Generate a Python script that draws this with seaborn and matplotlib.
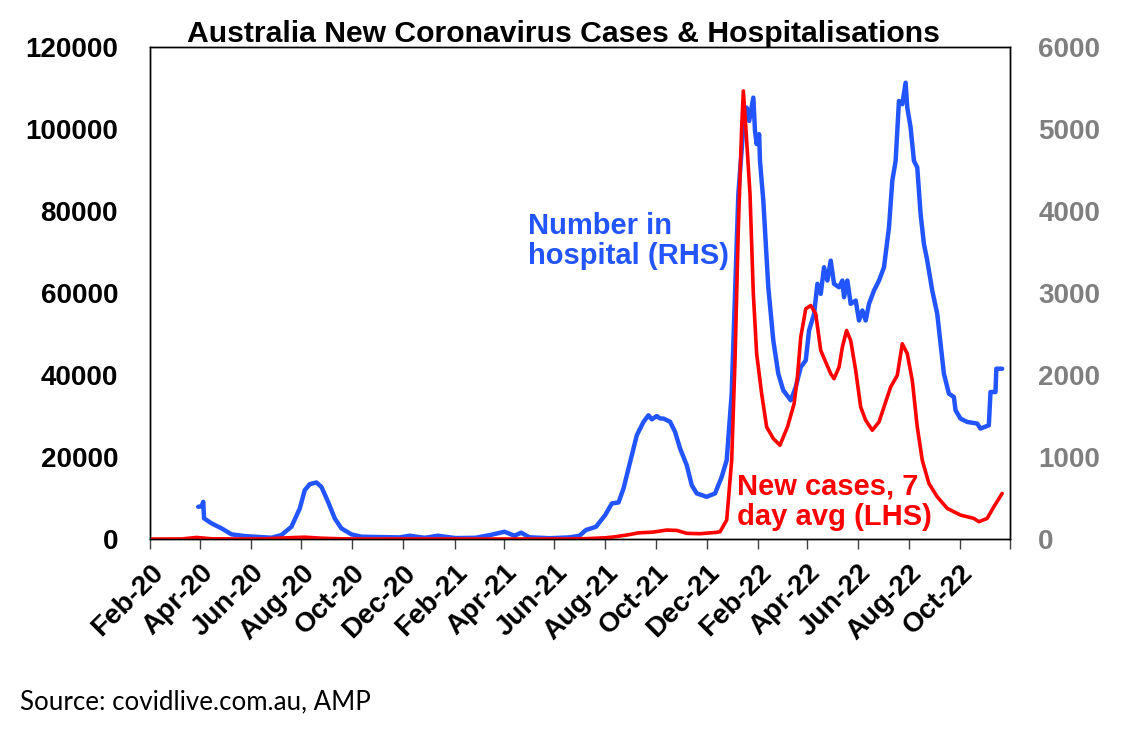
import pandas as pd
import seaborn as sns
import matplotlib.pyplot as plt

# number in hospital (RHS)
hosp_dates = [
    "2020-03-30", "2020-04-03", "2020-04-05", "2020-04-06", "2020-04-15", "2020-04-27",
    "2020-05-09", "2020-05-25", "2020-06-26", "2020-07-08", "2020-07-20", "2020-07-30",
    "2020-08-05", "2020-08-11", "2020-08-19", "2020-08-25", "2020-09-02", "2020-09-10",
    "2020-09-18", "2020-09-30", "2020-10-12", "2020-11-27", "2020-12-09", "2020-12-27",
    "2021-01-12", "2021-02-02", "2021-02-26", "2021-03-16", "2021-04-02", "2021-04-14",
    "2021-04-22", "2021-05-02", "2021-05-26", "2021-06-19", "2021-07-01", "2021-07-09",
    "2021-07-21", "2021-08-01", "2021-08-09", "2021-08-17", "2021-08-23", "2021-08-31",
    "2021-09-08", "2021-09-16", "2021-09-22", "2021-09-26", "2021-10-02", "2021-10-06",
    "2021-10-10", "2021-10-18", "2021-10-24", "2021-10-30", "2021-11-07", "2021-11-13",
    "2021-11-19", "2021-12-01", "2021-12-11", "2021-12-19", "2021-12-25", "2021-12-31",
    "2022-01-04", "2022-01-08", "2022-01-14", "2022-01-18", "2022-01-21", "2022-01-26",
    "2022-01-28", "2022-01-30", "2022-02-02", "2022-02-03", "2022-02-07", "2022-02-13",
    "2022-02-19", "2022-02-25", "2022-03-03", "2022-03-12", "2022-03-18", "2022-03-24",
    "2022-03-30", "2022-04-03", "2022-04-09", "2022-04-13", "2022-04-17", "2022-04-21",
    "2022-04-25", "2022-04-29", "2022-05-03", "2022-05-09", "2022-05-13", "2022-05-15",
    "2022-05-19", "2022-05-23", "2022-05-29", "2022-06-02", "2022-06-06", "2022-06-10",
    "2022-06-14", "2022-06-20", "2022-06-26", "2022-07-02", "2022-07-08", "2022-07-12",
    "2022-07-16", "2022-07-20", "2022-07-24", "2022-07-28", "2022-07-30", "2022-08-03",
    "2022-08-07", "2022-08-11", "2022-08-15", "2022-08-19", "2022-08-23", "2022-08-29",
    "2022-09-04", "2022-09-08", "2022-09-12", "2022-09-18", "2022-09-24", "2022-09-26",
    "2022-10-02", "2022-10-10", "2022-10-22", "2022-10-26", "2022-11-05", "2022-11-07",
    "2022-11-13", "2022-11-14", "2022-11-21",
]
hosp_values = [
    393, 400, 454, 252, 191, 130,
    57, 36, 16, 49, 150, 373,
    596, 669, 690, 636, 454, 252,
    130, 57, 28, 20, 40, 15,
    40, 12, 15, 49, 89, 40,
    77, 21, 10, 20, 40, 110,
    150, 292, 434, 446, 616, 940,
    1266, 1428, 1509, 1460, 1500, 1470,
    1469, 1430, 1306, 1104, 900, 657,
    556, 515, 556, 758, 961, 1773,
    2990, 4207, 5018, 5261, 5099, 5383,
    4978, 4816, 4937, 4612, 4126, 3070,
    2422, 2016, 1813, 1692, 1854, 2097,
    2178, 2544, 2746, 3112, 2990, 3314,
    3152, 3395, 3112, 3070, 3152, 2949,
    3152, 2868, 2908, 2665, 2787, 2665,
    2868, 3030, 3152, 3314, 3800, 4369,
    4612, 5342, 5302, 5565, 5261, 5018,
    4612, 4531, 3963, 3599, 3395, 3030,
    2746, 2381, 2016, 1773, 1732, 1570,
    1468, 1428, 1408, 1347, 1387, 1793,
    1793, 2077, 2077,
]

# new cases, 7 day avg (LHS)
case_dates = [
    "2020-02-01", "2020-03-10", "2020-03-28", "2020-04-15", "2020-05-15", "2020-06-20",
    "2020-07-15", "2020-08-05", "2020-08-25", "2020-09-20", "2020-10-15", "2020-12-25",
    "2021-03-01", "2021-06-15", "2021-07-10", "2021-08-01", "2021-08-11", "2021-08-27",
    "2021-09-10", "2021-09-28", "2021-10-14", "2021-10-26", "2021-11-07", "2021-11-23",
    "2021-12-13", "2021-12-17", "2021-12-25", "2021-12-31", "2022-01-04", "2022-01-08",
    "2022-01-12", "2022-01-14", "2022-01-17", "2022-01-22", "2022-01-26", "2022-01-30",
    "2022-02-05", "2022-02-11", "2022-02-19", "2022-02-27", "2022-03-08", "2022-03-16",
    "2022-03-20", "2022-03-24", "2022-03-30", "2022-04-05", "2022-04-11", "2022-04-17",
    "2022-04-23", "2022-04-29", "2022-05-03", "2022-05-09", "2022-05-13", "2022-05-18",
    "2022-05-23", "2022-05-29", "2022-06-04", "2022-06-10", "2022-06-18", "2022-06-26",
    "2022-07-02", "2022-07-10", "2022-07-18", "2022-07-24", "2022-07-30", "2022-08-05",
    "2022-08-11", "2022-08-17", "2022-08-25", "2022-09-04", "2022-09-16", "2022-10-02",
    "2022-10-18", "2022-10-24", "2022-11-03", "2022-11-11", "2022-11-21",
]
case_values = [
    0, 20, 380, 60, 15, 50,
    300, 450, 200, 40, 10, 20,
    10, 15, 100, 300, 500, 973,
    1500, 1700, 2190, 2100, 1390, 1300,
    1630, 1780, 4620, 19230, 43570, 76000,
    100350, 109300, 100350, 84150, 59800, 45200,
    35460, 27330, 24500, 22880, 27330, 33000,
    39500, 49240, 56150, 56960, 54940, 46000,
    43150, 40330, 39100, 41930, 46800, 50870,
    48440, 41130, 32200, 28960, 26530, 28550,
    32200, 37070, 39920, 47630, 45200, 38700,
    27330, 19230, 13550, 10300, 7470, 5840,
    5030, 4220, 5030, 7860, 11120,
]

tick_months = ["Feb-20", "Apr-20", "Jun-20", "Aug-20", "Oct-20", "Dec-20",
               "Feb-21", "Apr-21", "Jun-21", "Aug-21", "Oct-21", "Dec-21",
               "Feb-22", "Apr-22", "Jun-22", "Aug-22", "Oct-22"]

hosp = pd.DataFrame({"date": pd.to_datetime(hosp_dates), "value": hosp_values})
cases = pd.DataFrame({"date": pd.to_datetime(case_dates), "value": case_values})

sns.set_theme(style="white")
plt.rcParams["font.family"] = ["Liberation Sans", "DejaVu Sans"]
plt.rcParams["text.color"] = "black"
plt.rcParams["xtick.color"] = "black"
plt.rcParams["ytick.color"] = "black"

BLUE = "#2255ff"
RED = "#ff0000"

fig = plt.figure(figsize=(11.26, 7.44), dpi=100)
ax = fig.add_axes([0.1332, 0.2755, 0.7642, 0.6613])
ax2 = ax.twinx()

sns.lineplot(data=hosp, x="date", y="value", ax=ax2, color=BLUE, linewidth=3.2)
sns.lineplot(data=cases, x="date", y="value", ax=ax, color=RED, linewidth=2.6)

# red line sits on top of the blue one
ax.set_zorder(ax2.get_zorder() + 1)
ax.patch.set_visible(False)

ax.set_xlim(pd.Timestamp("2020-02-01"), pd.Timestamp("2022-12-01"))
ax.set_ylim(0, 120000)
ax2.set_ylim(0, 6000)
ax.set_yticks(range(0, 120001, 20000))
ax2.set_yticks(range(0, 6001, 1000))

tick_pos = pd.to_datetime(tick_months, format="%b-%y").tolist() + [pd.Timestamp("2022-12-01")]
ax.set_xticks(tick_pos)
ax.set_xticklabels(tick_months + [""], rotation=45, ha="right", va="top",
                   rotation_mode="anchor", fontsize=20, fontweight="bold", color="black")

ax.set_xlabel("")
ax.set_ylabel("")
ax2.set_ylabel("")

ax.tick_params(axis="x", direction="out", length=7, width=1, color="#404040", pad=8, bottom=True)
ax.tick_params(axis="y", length=0, pad=23, labelsize=20, labelcolor="black")
ax2.tick_params(axis="y", length=0, pad=20, labelsize=20, labelcolor="#7f7f7f")
for lab in ax.get_yticklabels():
    lab.set_fontweight("bold")
for lab in ax2.get_yticklabels():
    lab.set_fontweight("bold")

for a in (ax, ax2):
    for s in a.spines.values():
        s.set_color("black")
        s.set_linewidth(1)

ax.text(0.439, 0.665, "Number in\nhospital (RHS)", transform=ax.transAxes, color=BLUE,
        fontsize=21, fontweight="bold", ha="left", va="top", linespacing=1.1)
ax.text(0.682, 0.135, "New cases, 7\nday avg (LHS)", transform=ax.transAxes, color=RED,
        fontsize=21, fontweight="bold", ha="left", va="top", linespacing=1.1)

fig.text(0.5, 1 - 42 / 744, "Australia New Coronavirus Cases & Hospitalisations",
         ha="center", va="baseline", fontsize=21.7, fontweight="bold", color="black")
fig.text(20 / 1126, 1 - 709 / 744, "Source: covidlive.com.au, AMP", color="black",
         ha="left", va="baseline", fontsize=18.6, family=["Lato", "DejaVu Sans"])

fig.savefig("out.png", dpi=100)
